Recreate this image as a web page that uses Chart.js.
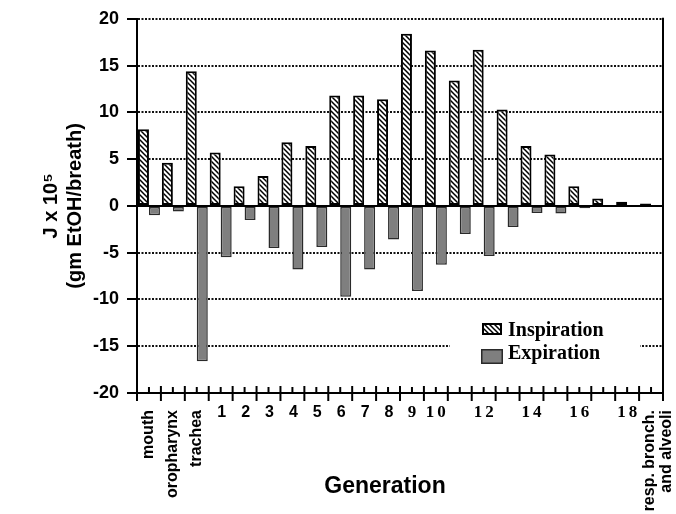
<!DOCTYPE html>
<html>
<head>
<meta charset="utf-8">
<script src="https://cdn.jsdelivr.net/npm/chart.js@4.4.1/dist/chart.umd.min.js"></script>
<style>
  html, body { margin: 0; padding: 0; background: #fff; }
  #wrap { width: 676px; height: 514px; }
</style>
</head>
<body>
<div id="wrap"><canvas id="chart"></canvas></div>
<script>
// airway generations, inspiration / expiration flux (J x 10^5)
const generations = ['mouth', 'oropharynx', 'trachea', '1', '2', '3', '4', '5', '6', '7', '8',
                     '9', '10', '11', '12', '13', '14', '15', '16', '17', '18', 'resp. bronch. and alveoli'];
const tickLabels = ['mouth', 'oropharynx', 'trachea', '1', '2', '3', '4', '5', '6', '7', '8',
                    '9', '10', '', '12', '', '14', '', '16', '', '18', 'resp. bronch.|and alveoli'];
const inspiration = [8.2, 4.6, 14.4, 5.7, 2.1, 3.2, 6.8, 6.4, 11.8, 11.8, 11.4,
                     18.4, 16.6, 13.4, 16.7, 10.3, 6.4, 5.5, 2.1, 0.8, 0.45, 0.25];
const expiration = [-1.0, -0.6, -16.6, -5.5, -1.5, -4.5, -6.8, -4.4, -9.7, -6.8, -3.6,
                    -9.1, -6.3, -3.0, -5.35, -2.25, -0.75, -0.8, -0.25, 0, 0, 0];
const yTicks = [-20, -15, -10, -5, 0, 5, 10, 15, 20];

const SANS = '"Liberation Sans", Arial, Helvetica, sans-serif';
const SERIF = '"Liberation Serif", "Times New Roman", serif';

// diagonal hatch for the inspiration bars
function makeHatch() {
    const c = document.createElement('canvas');
    c.width = 5; c.height = 5;
    const g = c.getContext('2d');
    g.fillStyle = '#fff';
    g.fillRect(0, 0, 5, 5);
    g.strokeStyle = '#000';
    g.lineWidth = 1.5;
    g.beginPath();
    g.moveTo(-1, -1); g.lineTo(6, 6);
    g.moveTo(-1, 4); g.lineTo(1, 6);
    g.moveTo(4, -1); g.lineTo(6, 1);
    g.stroke();
    return g.createPattern(c, 'repeat');
}
const hatch = makeHatch();

function line(ctx, x1, y1, x2, y2) {
    ctx.beginPath();
    ctx.moveTo(x1, y1);
    ctx.lineTo(x2, y2);
    ctx.stroke();
}

// zero line, right frame, x tick marks
const framePlugin = {
    id: 'frame',
    afterDatasetsDraw(chart) {
        const { ctx, chartArea: a, scales: { x, y } } = chart;
        ctx.save();
        ctx.strokeStyle = '#000';
        ctx.lineWidth = 2;
        const y0 = y.getPixelForValue(0);
        line(ctx, a.left, y0, a.right, y0);
        line(ctx, a.right, a.top - 1, a.right, a.bottom + 8);
        const n = generations.length;
        const step = (a.right - a.left) / n;
        for (let i = 0; i <= n; i++) {
            const px = a.left + i * step;
            line(ctx, px, a.bottom - 7, px, a.bottom + 8);
        }
        for (let i = 0; i < n; i++) {
            const px = x.getPixelForValue(i);
            line(ctx, px, a.bottom - 6, px, a.bottom);
        }
        ctx.restore();
    }
};

// category labels, axis title and the legend box
const labelPlugin = {
    id: 'labels',
    afterDraw(chart) {
        const { ctx, chartArea: a, scales: { x } } = chart;
        ctx.save();
        ctx.fillStyle = '#000';
        tickLabels.forEach((lab, i) => {
            if (!lab) return;
            const px = x.getPixelForValue(i);
            if (/^\d+$/.test(lab)) {
                const serif = Number(lab) >= 9;
                ctx.font = serif ? `bold 17px ${SERIF}` : `bold 16px ${SANS}`;
                ctx.letterSpacing = serif ? '3px' : '0px';
                ctx.textAlign = 'center';
                ctx.textBaseline = 'middle';
                ctx.fillText(lab, px + (serif ? 1.5 : 1), a.bottom + 20);
            } else {
                const lines = lab.split('|');
                ctx.letterSpacing = '0px';
                ctx.font = `bold 16px ${SANS}`;
                ctx.save();
                ctx.translate(px, a.bottom + 17);
                ctx.rotate(-Math.PI / 2);
                ctx.textAlign = 'right';
                ctx.textBaseline = 'middle';
                lines.forEach((t, k) => ctx.fillText(t, 0, k * 17 - (lines.length > 1 ? 1 : 0)));
                ctx.restore();
            }
        });
        ctx.letterSpacing = '0px';

        ctx.font = `bold 23px ${SANS}`;
        ctx.textAlign = 'center';
        ctx.textBaseline = 'middle';
        ctx.fillText('Generation', (a.left + a.right) / 2 - 15, 487);

        // legend
        ctx.fillStyle = '#fff';
        ctx.fillRect(450, 318, 190, 52);
        ctx.fillStyle = hatch;
        ctx.fillRect(482, 323, 20, 12);
        ctx.strokeStyle = '#000';
        ctx.lineWidth = 2;
        ctx.strokeRect(483, 324, 18, 10);
        ctx.fillStyle = '#7f7f7f';
        ctx.fillRect(481, 349, 22, 15);
        ctx.strokeStyle = '#2a2a2a';
        ctx.lineWidth = 1.5;
        ctx.strokeRect(481.75, 349.75, 20.5, 13.5);
        ctx.fillStyle = '#000';
        ctx.font = `bold 20px ${SERIF}`;
        ctx.textAlign = 'left';
        ctx.textBaseline = 'alphabetic';
        ctx.fillText('Inspiration', 508, 336);
        ctx.fillText('Expiration', 508, 359);
        ctx.restore();
    }
};

new Chart(document.getElementById('chart'), {
    type: 'bar',
    data: {
        labels: generations,
        datasets: [
            {
                label: 'Inspiration',
                data: inspiration,
                backgroundColor: hatch,
                borderColor: '#000',
                borderWidth: 2,
                borderSkipped: false,
                categoryPercentage: 0.92,
                barPercentage: 1.0
            },
            {
                label: 'Expiration',
                data: expiration,
                backgroundColor: '#7f7f7f',
                borderColor: '#2a2a2a',
                borderWidth: 1.5,
                borderSkipped: false,
                categoryPercentage: 0.92,
                barPercentage: 1.0
            }
        ]
    },
    options: {
        responsive: true,
        maintainAspectRatio: false,
        animation: false,
        layout: { padding: { top: 16, right: 13, left: 0, bottom: 0 } },
        plugins: {
            legend: { display: false },
            tooltip: { enabled: false }
        },
        scales: {
            x: {
                afterFit: s => { s.height = 121; },
                ticks: { display: false },
                grid: { display: false },
                border: { display: true, color: '#000', width: 2 }
            },
            y: {
                min: -20,
                max: 20,
                afterBuildTicks: s => { s.ticks = yTicks.map(v => ({ value: v })); },
                afterFit: s => { s.width = 137; },
                ticks: {
                    color: '#000',
                    padding: 8,
                    font: { family: SANS, weight: 'bold', size: 18 }
                },
                grid: {
                    color: c => (c.tick && (c.tick.value === 0 || c.tick.value === -20)) ? 'rgba(0,0,0,0)' : '#111',
                    lineWidth: 2,
                    tickColor: '#000',
                    tickLength: 10,
                    tickWidth: 2
                },
                border: { color: '#000', width: 2, dash: [2, 1.5] },
                title: {
                    display: true,
                    text: ['J x 10\u2075', '(gm EtOH/breath)'],
                    color: '#000',
                    font: { family: SANS, weight: 'bold', size: 20 },
                    padding: { top: 39, bottom: 0 }
                }
            }
        }
    },
    plugins: [framePlugin, labelPlugin]
});
</script>
</body>
</html>
